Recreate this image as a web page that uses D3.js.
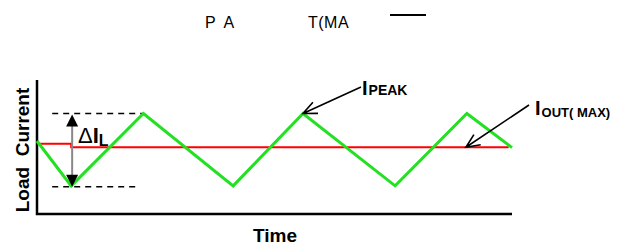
<!DOCTYPE html>
<html>
<head>
	<meta charset="utf-8">
	<title>load current ripple</title>
	<style>
		body{ margin:0; background:white; }
		svg{ display:block; font-family: "Liberation Sans", Arial, sans-serif; }
		.axis{ stroke:black; stroke-width:2.5; fill:none; }
		.ripple{ stroke:#22e022; stroke-width:3; fill:none; stroke-linejoin:miter; }
		.iout{ stroke:#ff0000; stroke-width:2; fill:none; }
		.dash{ stroke:black; stroke-width:1.5; stroke-dasharray:6,5; fill:none; }
		.lbl{ font-weight:bold; fill:black; }
		.note{ stroke:black; stroke-width:1.6; fill:none; }
	</style>
	<script src="https://cdnjs.cloudflare.com/ajax/libs/d3/7.8.5/d3.min.js"></script>
</head>
<body>
  <svg width="619" height="245"></svg>
  <script>
    // inductor current, time in arbitrary units
    var rippleT = [0, 0.72, 2.24, 4.13, 5.6, 7.54, 9.05, 10];
    var rippleI = [5.45, 2.1, 7.5, 2.1, 7.5, 2.1, 7.5, 4.95];
    // load current (small step near the start)
    var ioutT = [0, 0.72, 0.72, 9.93];
    var ioutI = [5.25, 5.25, 4.98, 4.98];
    var iPeak = 7.5, iValley = 2.1;

    var svg = d3.select("svg");
    var x = d3.scaleLinear().domain([0, 10]).range([37, 512]);
    var y = d3.scaleLinear().domain([0, 10]).range([214, 80]);

    var line = d3.line()
                 .x(function(d){ return x(d[0]); })
                 .y(function(d){ return y(d[1]); });

    // axes (bare lines, no ticks)
    svg.append("path").attr("class","axis")
       .attr("d", "M" + x(0) + "," + y(10) + "V" + y(0) + "H" + x(10));

    // dashed peak / valley marks
    svg.append("line").attr("class","dash")
       .attr("x1", x(0.32)).attr("x2", x(2.22))
       .attr("y1", y(iPeak)).attr("y2", y(iPeak));
    svg.append("line").attr("class","dash")
       .attr("x1", x(0.32)).attr("x2", x(2.14))
       .attr("y1", y(iValley) + 1).attr("y2", y(iValley) + 1);

    svg.append("path").attr("class","iout")
       .attr("d", line(d3.zip(ioutT, ioutI)));
    svg.append("path").attr("class","ripple")
       .attr("d", line(d3.zip(rippleT, rippleI)));

    // delta IL double arrow
    var ax = x(0.74);
    svg.append("line")
       .attr("x1", ax).attr("x2", ax)
       .attr("y1", y(iPeak) + 8).attr("y2", y(iValley) - 8)
       .attr("stroke", "#888").attr("stroke-width", 2);
    svg.append("path").attr("fill","black")
       .attr("d", "M" + ax + "," + (y(iPeak) + 1) + "l-6,12h12z");
    svg.append("path").attr("fill","black")
       .attr("d", "M" + ax + "," + (y(iValley) + 1) + "l-6,-12h12z");

    var dl = svg.append("text").attr("x", 78).attr("y", 143).attr("class","lbl");
    dl.append("tspan").attr("font-size", 22).attr("font-weight","normal").text("\u0394");
    dl.append("tspan").attr("font-size", 22).text("I");
    dl.append("tspan").attr("font-size", 16).attr("dy", 3).text("L");

    // annotation arrows
    function annot(tx, ty, px, py) {
      var a = Math.atan2(ty - py, tx - px), s = 15, w = 0.42;
      svg.append("path").attr("class","note")
         .attr("d", "M" + tx + "," + ty + "L" + px + "," + py +
              "M" + (px + s*Math.cos(a+w)) + "," + (py + s*Math.sin(a+w)) +
              "L" + px + "," + py +
              "L" + (px + s*Math.cos(a-w)) + "," + (py + s*Math.sin(a-w)));
    }
    annot(361, 87, x(5.6), y(iPeak));
    annot(529, 105, x(9.03), y(4.98));

    var pk = svg.append("text").attr("x", 362).attr("y", 95).attr("class","lbl");
    pk.append("tspan").attr("font-size", 20).text("I");
    pk.append("tspan").attr("font-size", 14).attr("dx", 1).text("PEAK");

    var io = svg.append("text").attr("x", 535).attr("y", 115).attr("class","lbl");
    io.append("tspan").attr("font-size", 20).text("I");
    io.append("tspan").attr("font-size", 13).attr("dx", 1).attr("dy", 2).text("OUT( MAX)");

    // axis titles
    svg.append("text").attr("class","lbl").attr("font-size", 19)
       .attr("text-anchor","middle")
       .attr("transform","translate(29,150) rotate(-90)")
       .attr("xml:space","preserve")
       .text("Load  Current");
    svg.append("text").attr("class","lbl").attr("font-size", 19)
       .attr("text-anchor","middle")
       .attr("x", 275).attr("y", 242).text("Time");

    // leftover header fragments
    svg.append("text").attr("x", 205).attr("y", 28).attr("font-size", 16)
       .attr("xml:space","preserve").text("P  A");
    svg.append("text").attr("x", 308).attr("y", 28).attr("font-size", 16)
       .attr("letter-spacing", 0.5).text("T(MA");
    svg.append("line").attr("x1", 390).attr("x2", 426).attr("y1", 15).attr("y2", 15)
       .attr("stroke","black").attr("stroke-width", 2);
  </script>
</body>
</html>
